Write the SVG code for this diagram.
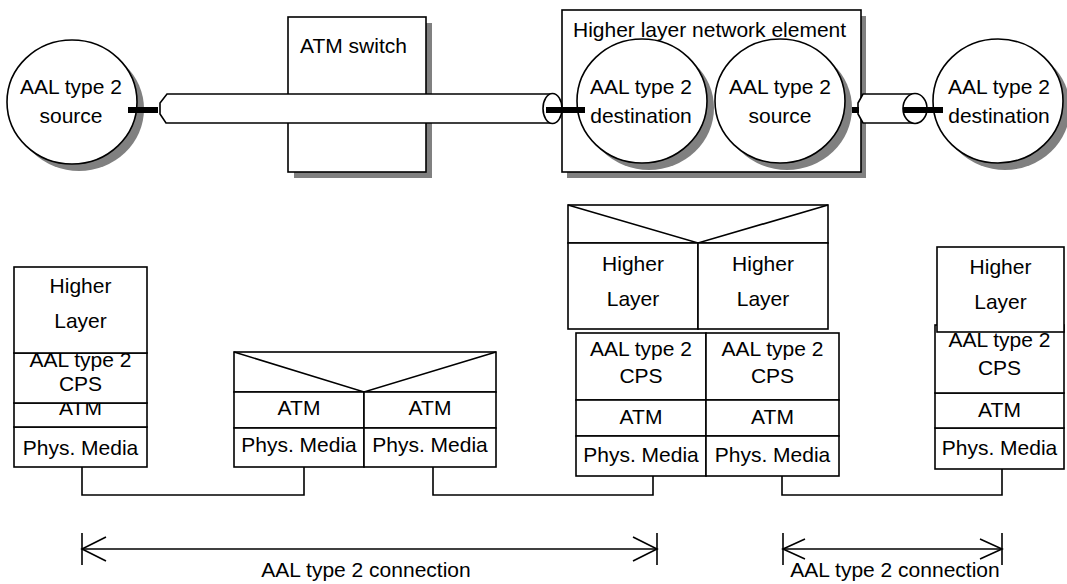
<svg xmlns="http://www.w3.org/2000/svg" width="1067" height="584" viewBox="0 0 1067 584">
<defs>
<style>
.s{fill:#fff;stroke:#000;stroke-width:1.6}
.sh{fill:#808080;stroke:none}
.ln{fill:none;stroke:#000;stroke-width:1.6}
.stub{fill:#000}
text{font-family:"Liberation Sans",Arial,sans-serif;font-size:21px;fill:#000}
.c{text-anchor:middle}
</style>
</defs>
<rect width="1067" height="584" fill="#fff"/>

<g id="atm-switch">
<rect class="sh" x="294" y="23" width="138" height="155"/>
<rect class="s" x="288" y="17" width="138" height="155"/>
<text x="300" y="53">ATM switch</text>
</g>

<g id="hl-network-element">
<rect class="sh" x="567" y="16" width="299" height="162"/>
<rect class="s" x="562" y="10" width="299" height="162"/>
<text x="573" y="37">Higher layer network element</text>
</g>

<g id="src1">
<ellipse class="sh" cx="79" cy="109" rx="65" ry="62"/>
<ellipse class="s" cx="72" cy="102" rx="65" ry="62"/>
<text class="c" x="71" y="94">AAL type 2</text>
<text class="c" x="71" y="123">source</text>
</g>

<g id="dst1">
<ellipse class="sh" cx="649" cy="108" rx="65" ry="62"/>
<ellipse class="s" cx="642" cy="101" rx="65" ry="62"/>
<text class="c" x="641" y="94">AAL type 2</text>
<text class="c" x="641" y="123">destination</text>
</g>

<g id="src2">
<ellipse class="sh" cx="787" cy="108" rx="65" ry="62"/>
<ellipse class="s" cx="780" cy="101" rx="65" ry="62"/>
<text class="c" x="780" y="94">AAL type 2</text>
<text class="c" x="780" y="123">source</text>
</g>

<g id="dst2">
<ellipse class="sh" cx="1005" cy="108" rx="65" ry="62"/>
<ellipse class="s" cx="998" cy="101" rx="65" ry="62"/>
<text class="c" x="999" y="94">AAL type 2</text>
<text class="c" x="999" y="123">destination</text>
</g>

<g id="pipes">
<path class="s" d="M552 94 H167 L160 103 V114 L166 123 H552 Z"/>
<ellipse class="s" cx="552.5" cy="108.5" rx="9.5" ry="15"/>
<path class="s" d="M915 94 H863 L858 103 V114 L863 123 H915 Z"/>
<ellipse class="s" cx="915" cy="108.5" rx="12" ry="15"/>
<rect class="stub" x="128" y="107" width="30" height="6"/>
<rect class="stub" x="546" y="107" width="39" height="6"/>
<rect class="stub" x="852" y="107" width="7" height="6"/>
<rect class="stub" x="903" y="107" width="40" height="6"/>
</g>

<g id="stack-end1">
<rect class="s" x="14" y="427" width="133" height="40"/>
<text class="c" x="80.5" y="455">Phys. Media</text>
<rect class="s" x="14" y="403" width="133" height="24"/>
<text class="c" x="80.5" y="415">ATM</text>
<rect class="s" x="14" y="353" width="133" height="50"/>
<text class="c" x="80.5" y="367">AAL type 2</text>
<text class="c" x="80.5" y="391">CPS</text>
<rect class="s" x="14" y="267" width="133" height="86"/>
<text class="c" x="80.5" y="293">Higher</text>
<text class="c" x="80.5" y="328">Layer</text>
</g>

<g id="stack-switch">
<rect class="s" x="234" y="352" width="262" height="40"/>
<polyline class="ln" points="234,352 364,392 496,352"/>
<rect class="s" x="234" y="392" width="130" height="36"/>
<rect class="s" x="364" y="392" width="132" height="36"/>
<text class="c" x="299" y="415">ATM</text>
<text class="c" x="430" y="415">ATM</text>
<rect class="s" x="234" y="428" width="130" height="39"/>
<rect class="s" x="364" y="428" width="132" height="39"/>
<text class="c" x="299" y="452">Phys. Media</text>
<text class="c" x="430" y="452">Phys. Media</text>
</g>

<g id="stack-relay">
<rect class="s" x="568" y="205" width="260" height="38"/>
<polyline class="ln" points="568,205 698,243 828,205"/>
<rect class="s" x="568" y="243" width="130" height="86"/>
<rect class="s" x="698" y="243" width="130" height="86"/>
<text class="c" x="633" y="271">Higher</text>
<text class="c" x="633" y="306">Layer</text>
<text class="c" x="763" y="271">Higher</text>
<text class="c" x="763" y="306">Layer</text>
<rect class="s" x="576" y="333" width="130" height="67"/>
<rect class="s" x="706" y="333" width="133" height="67"/>
<text class="c" x="641" y="356">AAL type 2</text>
<text class="c" x="641" y="383">CPS</text>
<text class="c" x="772.5" y="356">AAL type 2</text>
<text class="c" x="772.5" y="383">CPS</text>
<rect class="s" x="576" y="400" width="130" height="36"/>
<rect class="s" x="706" y="400" width="133" height="36"/>
<text class="c" x="641" y="424">ATM</text>
<text class="c" x="772.5" y="424">ATM</text>
<rect class="s" x="576" y="436" width="130" height="40"/>
<rect class="s" x="706" y="436" width="133" height="40"/>
<text class="c" x="641" y="462">Phys. Media</text>
<text class="c" x="772.5" y="462">Phys. Media</text>
</g>

<g id="stack-end2">
<rect class="s" x="935" y="428" width="129" height="41"/>
<text class="c" x="999.5" y="455">Phys. Media</text>
<rect class="s" x="935" y="393" width="129" height="35"/>
<text class="c" x="999.5" y="417">ATM</text>
<rect class="s" x="935" y="325" width="129" height="68"/>
<text class="c" x="999.5" y="347">AAL type 2</text>
<text class="c" x="999.5" y="375">CPS</text>
<rect class="s" x="937" y="247" width="127" height="85"/>
<text class="c" x="1000.5" y="274">Higher</text>
<text class="c" x="1000.5" y="309">Layer</text>
</g>

<g id="connectors">
<polyline class="ln" points="82,467 82,495 304,495 304,467"/>
<polyline class="ln" points="433,467 433,495 653,495 653,476"/>
<polyline class="ln" points="782,476 782,495 1002,495 1002,469"/>
<line class="ln" x1="82" y1="549" x2="657" y2="549"/>
<line class="ln" x1="82" y1="533" x2="82" y2="565"/>
<line class="ln" x1="657" y1="533" x2="657" y2="565"/>
<polyline class="ln" points="106,537 82,549 106,561"/>
<polyline class="ln" points="633,537 657,549 633,561"/>
<line class="ln" x1="783" y1="549" x2="1002" y2="549"/>
<line class="ln" x1="783" y1="533" x2="783" y2="565"/>
<line class="ln" x1="1002" y1="533" x2="1002" y2="565"/>
<polyline class="ln" points="805,539 783,549 805,559"/>
<polyline class="ln" points="980,539 1002,549 980,559"/>
<text class="c" x="366" y="577">AAL type 2 connection</text>
<text class="c" x="895" y="577">AAL type 2 connection</text>
</g>
</svg>
